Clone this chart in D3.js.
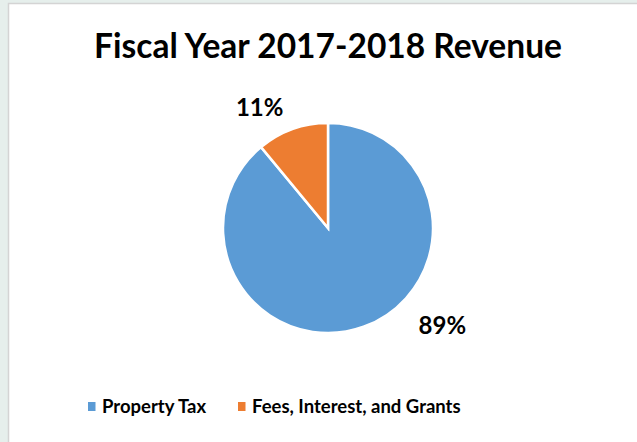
<!DOCTYPE html>
<html>
<head>
<meta charset="utf-8">
<script src="https://cdn.jsdelivr.net/npm/d3@7"></script>
<style>
  html, body { margin: 0; padding: 0; background: #e6efec; }
  svg { display: block; }
</style>
</head>
<body>
<div id="chart"></div>
<script>
const categories = ['Property Tax', 'Fees, Interest, and Grants']
const values = [89, 11]
const colors = ['#5b9bd5', '#ed7d31']

const width = 637
const height = 442
const font = 'Lato, sans-serif'

const svg = d3.select('#chart')
  .append('svg')
  .attr('width', width)
  .attr('height', height)

// 배경 테두리
svg.append('rect')
  .attr('x', 8.5)
  .attr('y', 3.5)
  .attr('width', width)
  .attr('height', height)
  .attr('fill', '#fff')
  .attr('stroke', '#d4d4d4')
  .attr('stroke-width', 1.5)

// 제목
svg.append('text')
  .attr('x', 328)
  .attr('y', 58)
  .attr('text-anchor', 'middle')
  .attr('font-family', font)
  .attr('font-weight', 'bold')
  .attr('font-size', '33.5px')
  .attr('fill', '#000')
  .text('Fiscal Year 2017-2018 Revenue')

const cx = 328, cy = 228, r = 105

const pie = d3.pie().sort(null).value(d => d.value)
const arcs = pie(categories.map((c, i) => ({ name: c, value: values[i], color: colors[i] })))
const arc = d3.arc().innerRadius(0).outerRadius(r)

const g = svg.append('g').attr('transform', `translate(${cx},${cy})`)

g.selectAll('path')
  .data(arcs)
  .join('path')
  .attr('d', arc)
  .attr('fill', d => d.data.color)
  .attr('stroke', '#fff')
  .attr('stroke-width', 2.5)

// 퍼센트 라벨 (엑셀 best-fit 위치에 맞게 각도 보정)
const labelAngleShift = [-0.52, -0.17]
const labelRadius = [r * 1.43, r * 1.32]
g.selectAll('text')
  .data(arcs)
  .join('text')
  .attr('transform', (d, i) => {
    const a = (d.startAngle + d.endAngle) / 2 + labelAngleShift[i]
    return `translate(${Math.sin(a) * labelRadius[i]},${-Math.cos(a) * labelRadius[i]})`
  })
  .attr('text-anchor', 'middle')
  .attr('dy', '0.35em')
  .attr('font-family', font)
  .attr('font-weight', 'bold')
  .attr('font-size', '24px')
  .attr('fill', '#000')
  .text(d => d.data.value + '%')

// 범례
const legendX = [88, 238]
const legend = svg.append('g')
legend.selectAll('rect')
  .data(categories)
  .join('rect')
  .attr('x', (d, i) => legendX[i])
  .attr('y', 402)
  .attr('width', 7.5)
  .attr('height', 9)
  .attr('fill', (d, i) => colors[i])
legend.selectAll('text')
  .data(categories)
  .join('text')
  .attr('x', (d, i) => legendX[i] + 14)
  .attr('y', 407)
  .attr('dy', '0.35em')
  .attr('font-family', font)
  .attr('font-weight', 'bold')
  .attr('font-size', '18.5px')
  .attr('fill', '#000')
  .text(d => d)
</script>
</body>
</html>
